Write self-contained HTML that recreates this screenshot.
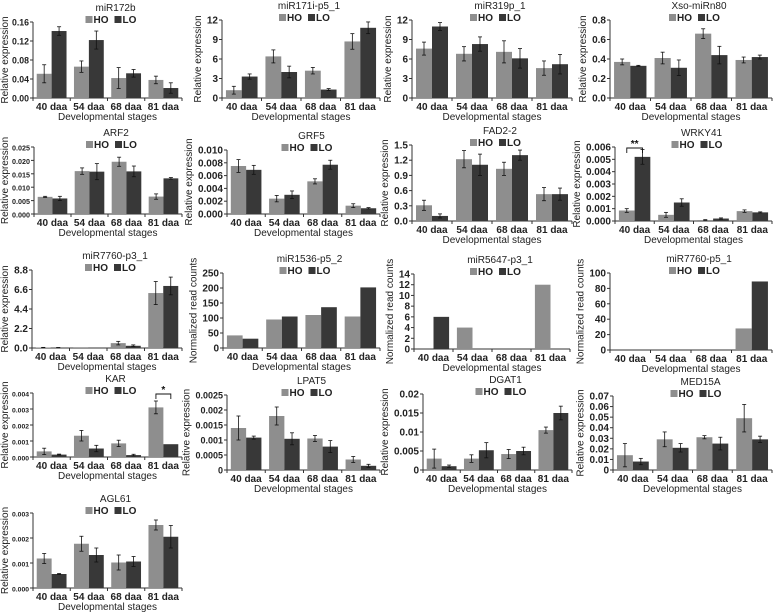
<!DOCTYPE html>
<html><head><meta charset="utf-8"><style>
html,body{margin:0;padding:0;background:#fff;}
svg{display:block;font-family:"Liberation Sans",Arial,sans-serif;}
</style></head><body>
<svg id="fig" width="777" height="616" viewBox="0 0 777 616"></svg>
<script>
const categories = ["40 daa","54 daa","68 daa","81 daa"];

const miR172b_HO = [0.051,0.066,0.042,0.038], miR172b_HOe = [0.019,0.012,0.022,0.008];
const miR172b_LO = [0.141,0.122,0.052,0.021], miR172b_LOe = [0.009,0.019,0.008,0.011];
const miR172b_ticks = ["0.00","0.04","0.08","0.12","0.16"];

const miR171i_HO = [1.2,6.4,4.2,8.7], miR171i_HOe = [0.6,1.0,0.5,1.2];
const miR171i_LO = [3.3,4.0,1.3,10.8], miR171i_LOe = [0.4,0.9,0.15,0.9];
const miR171i_ticks = ["0","3","6","9","12"];

const miR319_HO = [7.6,6.8,7.1,4.6], miR319_HOe = [1.0,1.1,1.7,1.1];
const miR319_LO = [11.0,8.3,6.1,5.2], miR319_LOe = [0.6,1.1,1.5,1.5];
const miR319_ticks = ["0","3","6","9","12"];

const xso_HO = [0.37,0.41,0.66,0.39], xso_HOe = [0.03,0.06,0.05,0.03];
const xso_LO = [0.33,0.31,0.44,0.42], xso_LOe = [0.005,0.08,0.09,0.02];
const xso_ticks = ["0.0","0.2","0.4","0.6","0.8"];

const arf2_HO = [0.0064,0.016,0.0195,0.0065], arf2_HOe = [0.0002,0.0012,0.0017,0.001];
const arf2_LO = [0.0058,0.0158,0.0159,0.0133], arf2_LOe = [0.0008,0.003,0.002,0.0003];
const arf2_ticks = ["0.000","0.005","0.010","0.015","0.020","0.025"];

const grf5_HO = [0.0075,0.0024,0.0051,0.0013], grf5_HOe = [0.001,0.0005,0.0004,0.0003];
const grf5_LO = [0.0069,0.003,0.0077,0.0009], grf5_LOe = [0.0007,0.0006,0.0007,0.0001];
const grf5_ticks = ["0.000","0.002","0.004","0.006","0.008","0.010"];

const fad2_HO = [0.31,1.22,1.03,0.53], fad2_HOe = [0.1,0.17,0.13,0.13];
const fad2_LO = [0.1,1.11,1.3,0.53], fad2_LOe = [0.04,0.21,0.1,0.12];
const fad2_ticks = ["0.0","0.3","0.6","0.9","1.2","1.5"];

const wrky_HO = [0.00085,0.0005,0.00008,0.0008], wrky_HOe = [0.00015,0.0002,0.00003,0.0001];
const wrky_LO = [0.0052,0.0015,0.0002,0.0007], wrky_LOe = [0.0006,0.0003,0.00005,0.00004];
const wrky_ticks = ["0.000","0.001","0.002","0.003","0.004","0.005","0.006"];

const m7760p3_HO = [0.05,0.02,0.55,6.2], m7760p3_HOe = [0.02,0,0.2,1.3];
const m7760p3_LO = [0.04,0.01,0.25,7.0], m7760p3_LOe = [0.02,0,0.1,1.0];
const m7760p3_ticks = ["0.0","2.2","4.4","6.6","8.8"];

const m1536_HO = [42,95,110,105];
const m1536_LO = [31,105,136,202];
const m1536_ticks = ["0","50","100","150","200","250"];

const m5647_HO = [0,4,0,12];
const m5647_LO = [6,0,0,0];
const m5647_ticks = ["0","2","4","6","8","10","12","14"];

const m7760p5_HO = [0,0,0,28];
const m7760p5_LO = [0,0,0,89];
const m7760p5_ticks = ["0","20","40","60","80","100"];

const kar_HO = [0.00035,0.00133,0.00085,0.0031], kar_HOe = [0.0002,0.00033,0.0002,0.0004];
const kar_LO = [0.00015,0.00053,0.00012,0.0008], kar_LOe = [0.00003,0.0002,0.00005,0];
const kar_ticks = ["0.000","0.001","0.002","0.003","0.004"];

const lpat5_HO = [0.0014,0.0018,0.00105,0.00035], lpat5_HOe = [0.0004,0.0003,0.0001,0.0001];
const lpat5_LO = [0.00108,0.00104,0.00078,0.00014], lpat5_LOe = [0.00005,0.0002,0.0002,0.00005];
const lpat5_ticks = ["0","0.0005","0.001","0.0015","0.002","0.0025"];

const dgat1_HO = [0.003,0.003,0.0042,0.0105], dgat1_HOe = [0.0025,0.001,0.0012,0.0008];
const dgat1_LO = [0.001,0.0052,0.005,0.015], dgat1_LOe = [0.0003,0.002,0.001,0.0018];
const dgat1_ticks = ["0","0.005","0.01","0.015","0.02"];

const med15a_HO = [0.014,0.029,0.031,0.049], med15a_HOe = [0.011,0.007,0.0015,0.013];
const med15a_LO = [0.008,0.021,0.025,0.029], med15a_LOe = [0.003,0.004,0.006,0.003];
const med15a_ticks = ["0","0.01","0.02","0.03","0.04","0.05","0.06","0.07"];

const agl61_HO = [0.00118,0.00177,0.00102,0.00252], agl61_HOe = [0.0002,0.0003,0.0003,0.0002];
const agl61_LO = [0.00056,0.00132,0.00106,0.00205], agl61_LOe = [0.00002,0.00028,0.0002,0.00045];
const agl61_ticks = ["0.000","0.001","0.002","0.003"];

const NS = "http://www.w3.org/2000/svg";
const svg = document.getElementById("fig");
function mk(tag, attrs, parent, text){
  const e = document.createElementNS(NS, tag);
  for (const k in attrs) e.setAttribute(k, attrs[k]);
  if (text !== undefined) e.textContent = text;
  parent.appendChild(e);
  return e;
}

const panels = [
  {id:"mir172b", title:"miR172b", ho:miR172b_HO, hoe:miR172b_HOe, lo:miR172b_LO, loe:miR172b_LOe, ticks:miR172b_ticks, x0:33, x1:182, top:22, zero:98},
  {id:"mir171i", title:"miR171i-p5_1", ho:miR171i_HO, hoe:miR171i_HOe, lo:miR171i_LO, loe:miR171i_LOe, ticks:miR171i_ticks, x0:222, x1:380, top:20, zero:98},
  {id:"mir319p", title:"miR319p_1", ho:miR319_HO, hoe:miR319_HOe, lo:miR319_LO, loe:miR319_LOe, ticks:miR319_ticks, x0:412, x1:572, top:20, zero:98},
  {id:"xso-mirn80", title:"Xso-miRn80", ho:xso_HO, hoe:xso_HOe, lo:xso_LO, loe:xso_LOe, ticks:xso_ticks, x0:610, x1:772, top:20, zero:98},
  {id:"arf2", title:"ARF2", ho:arf2_HO, hoe:arf2_HOe, lo:arf2_LO, loe:arf2_LOe, ticks:arf2_ticks, x0:34, x1:182, top:147, zero:214},
  {id:"grf5", title:"GRF5", ho:grf5_HO, hoe:grf5_HOe, lo:grf5_LO, loe:grf5_LOe, ticks:grf5_ticks, x0:227, x1:380, top:150, zero:214},
  {id:"fad2-2", title:"FAD2-2", ho:fad2_HO, hoe:fad2_HOe, lo:fad2_LO, loe:fad2_LOe, ticks:fad2_ticks, x0:412, x1:572, top:145, zero:221},
  {id:"wrky41", title:"WRKY41", ho:wrky_HO, hoe:wrky_HOe, lo:wrky_LO, loe:wrky_LOe, ticks:wrky_ticks, x0:615, x1:772, top:147, zero:221, sig:{g:0, t:"**"}},
  {id:"mir7760-p3", title:"miR7760-p3_1", ho:m7760p3_HO, hoe:m7760p3_HOe, lo:m7760p3_LO, loe:m7760p3_LOe, ticks:m7760p3_ticks, x0:32, x1:182, top:270, zero:348},
  {id:"mir1536", title:"miR1536-p5_2", ho:m1536_HO, lo:m1536_LO, ticks:m1536_ticks, x0:223, x1:380, top:273, zero:348, ylab:"Normalized  read counts"},
  {id:"mir5647", title:"miR5647-p3_1", ho:m5647_HO, lo:m5647_LO, ticks:m5647_ticks, x0:414, x1:570, top:274, zero:349, ylab:"Normalized  read counts"},
  {id:"mir7760-p5", title:"miR7760-p5_1", ho:m7760p5_HO, lo:m7760p5_LO, ticks:m7760p5_ticks, x0:610, x1:772, top:273, zero:350, ylab:"Normalized  read counts"},
  {id:"kar", title:"KAR", ho:kar_HO, hoe:kar_HOe, lo:kar_LO, loe:kar_LOe, ticks:kar_ticks, x0:33, x1:182, top:393, zero:457, sig:{g:3, t:"*"}},
  {id:"lpat5", title:"LPAT5", ho:lpat5_HO, hoe:lpat5_HOe, lo:lpat5_LO, loe:lpat5_LOe, ticks:lpat5_ticks, x0:227, x1:380, top:395, zero:470},
  {id:"dgat1", title:"DGAT1", ho:dgat1_HO, hoe:dgat1_HOe, lo:dgat1_LO, loe:dgat1_LOe, ticks:dgat1_ticks, x0:423, x1:572, top:394, zero:470},
  {id:"med15a", title:"MED15A", ho:med15a_HO, hoe:med15a_HOe, lo:med15a_LO, loe:med15a_LOe, ticks:med15a_ticks, x0:613, x1:772, top:396, zero:470},
  {id:"agl61", title:"AGL61", ho:agl61_HO, hoe:agl61_HOe, lo:agl61_LO, loe:agl61_LOe, ticks:agl61_ticks, x0:33, x1:182, top:513, zero:588}
];

const HO_COL = "#8e8e8e", LO_COL = "#383838", TXT = "#222";
function estW(s, fs){ let w = 0; for (const ch of s) w += (ch === "." ? 0.278 : 0.556); return w * fs; }

panels.forEach(p => {
  const g = mk("g", {}, svg);
  
  
  const ymax = parseFloat(p.ticks[p.ticks.length-1]);
  const yS = v => p.zero - (v / ymax) * (p.zero - p.top);
  const gw = (p.x1 - p.x0) / categories.length;
  const xC = i => p.x0 + gw * (i + 0.5);
  const bw = gw * 0.4;
  const cx = (p.x0 + p.x1) / 2;
  const longest = p.ticks.reduce((a, b) => b.length > a.length ? b : a, "");
  let tfs = longest.length >= 6 ? 9 : 10;
  tfs = Math.min(tfs, (p.x0 - 4 - 12) / estW(longest, 1));

  const t = mk("text", {x: cx + 8, y: p.top - 11, "text-anchor":"middle", "font-size":"10", fill:TXT}, g, p.title);
  
  

  const lg = mk("g", {}, g);
  
  
  const lx = cx - 22, ly = p.top + 1;
  mk("rect", {x:lx, y:ly-7, width:7, height:7, fill:HO_COL}, lg);
  mk("text", {x:lx+8, y:ly, "font-size":"10", "font-weight":"bold", fill:TXT}, lg, "HO");
  mk("rect", {x:lx+29, y:ly-7, width:7, height:7, fill:LO_COL}, lg);
  mk("text", {x:lx+37, y:ly, "font-size":"10", "font-weight":"bold", fill:TXT}, lg, "LO");

  mk("line", {x1:p.x0, y1:p.top, x2:p.x0, y2:p.zero, stroke:"#333", "stroke-width":1}, g);
  p.ticks.forEach(tk => {
    const y = yS(parseFloat(tk));
    mk("line", {x1:p.x0-3, y1:y, x2:p.x0, y2:y, stroke:"#333"}, g);
    const tl = mk("text", {x:p.x0-4, y:y+3.5, "text-anchor":"end", "font-size":tfs.toFixed(2), "font-weight":"bold", fill:TXT}, g, tk);
    
    
  });
  mk("line", {x1:p.x0, y1:p.zero, x2:p.x1, y2:p.zero, stroke:"#333"}, g);
  for (let i = 0; i <= categories.length; i++) {
    const x = p.x0 + gw * i;
    mk("line", {x1:x, y1:p.zero, x2:x, y2:p.zero+3, stroke:"#333"}, g);
  }
  categories.forEach((c, i) => {
    const xl = mk("text", {x:xC(i), y:p.zero+12, "text-anchor":"middle", "font-size":"10", "font-weight":"bold", fill:TXT}, g, c);
    
    
  });
  const xt = mk("text", {x:cx, y:p.zero+22, "text-anchor":"middle", "font-size":"10", fill:TXT}, g, "Developmental stages");
  
  
  const ym = (p.top + p.zero) / 2;
  const ytx = Math.max(8, p.x0 - 4 - estW(longest, tfs) - 6);
  const yt = mk("text", {x:0, y:0, transform:`translate(${ytx},${ym}) rotate(-90)`, "text-anchor":"middle", "font-size":"10", fill:TXT}, g, p.ylab || "Relative expression");
  
  

  const series = [[p.ho, p.hoe, HO_COL, -1, "ho"], [p.lo, p.loe, LO_COL, 0, "lo"]];
  series.forEach(([vals, errs, col, off, nm]) => {
    vals.forEach((v, i) => {
      if (v <= 0) return;
      const x = xC(i) + off * bw;
      const y = yS(v);
      const r = mk("rect", {x:x, y:y, width:bw, height:p.zero - y, fill:col}, g);
      
      
      if (errs && errs[i] > 0) {
        const ex = x + bw/2, y1 = yS(v - errs[i]), y2 = yS(v + errs[i]);
        mk("line", {x1:ex, y1:y1, x2:ex, y2:y2, stroke:"#111", "stroke-width":0.8}, g);
        mk("line", {x1:ex-2, y1:y1, x2:ex+2, y2:y1, stroke:"#111", "stroke-width":0.8}, g);
        mk("line", {x1:ex-2, y1:y2, x2:ex+2, y2:y2, stroke:"#111", "stroke-width":0.8}, g);
      }
    });
  });

  if (p.sig) {
    const i = p.sig.g;
    const xa = xC(i) - bw/2, xb = xC(i) + bw/2;
    const yb = p.top + 1;
    const sg = mk("g", {}, g);
    
    
    mk("path", {d:`M${xa},${yb+5} V${yb} H${xb} V${yb+5}`, fill:"none", stroke:"#111", "stroke-width":0.9}, sg);
    mk("text", {x:(xa+xb)/2, y:yb-1, "text-anchor":"middle", "font-size":"10", "font-weight":"bold", fill:"#111"}, sg, p.sig.t);
  }
});
</script>
</body></html>
